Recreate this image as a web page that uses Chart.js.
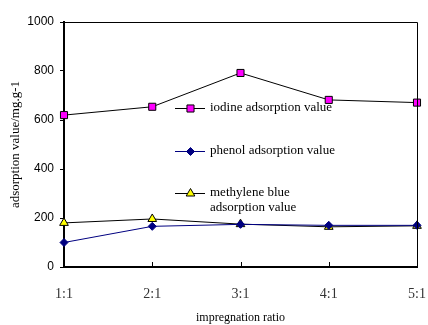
<!DOCTYPE html>
<html>
<head>
<meta charset="utf-8">
<script src="https://cdn.jsdelivr.net/npm/chart.js@4/dist/chart.umd.min.js"></script>
<style>
  html, body { margin: 0; padding: 0; background: #fff; }
  #wrap { width: 428px; height: 325px; }
</style>
</head>
<body>
<div id="wrap"><canvas id="chart" width="428" height="325"></canvas></div>
<script>
const ratios = ['1:1', '2:1', '3:1', '4:1', '5:1'];
const iodine = [620, 654, 792, 682, 671];
const phenol = [100, 166, 174, 170, 170];
const methyleneBlue = [180, 196, 175, 164, 168];
const yTicks = [0, 200, 400, 600, 800, 1000];

const serif = '"Liberation Serif", "DejaVu Serif", serif';
const sans = '"Liberation Sans", Arial, sans-serif';

// box round the plot + inward ticks on x
const frame = {
  id: 'frame',
  afterDraw(chart) {
    const { ctx, chartArea: a } = chart;
    const x = chart.scales.x;
    ctx.save();
    ctx.strokeStyle = '#000';
    ctx.lineWidth = 1;
    ctx.beginPath();
    ctx.moveTo(a.left, a.top + 0.5);
    ctx.lineTo(a.right + 0.5, a.top + 0.5);
    ctx.lineTo(a.right + 0.5, a.bottom);
    ctx.stroke();
    ctx.beginPath();
    for (let i = 1; i < ratios.length; i++) {
      const px = Math.round(x.getPixelForValue(i)) + 0.5;
      ctx.moveTo(px, a.bottom);
      ctx.lineTo(px, a.bottom - 5);
    }
    ctx.stroke();
    ctx.restore();
  }
};

// legend drawn inside the plot
const legendBox = {
  id: 'legendBox',
  afterDatasetsDraw(chart) {
    const { ctx } = chart;
    const rows = [
      { ds: 0, y: 108, lines: ['iodine adsorption value'] },
      { ds: 1, y: 151, lines: ['phenol adsorption value'] },
      { ds: 2, y: 193, lines: ['methylene blue', 'adsorption value'] },
    ];
    ctx.save();
    rows.forEach((r) => {
      const d = chart.data.datasets[r.ds];
      ctx.strokeStyle = d.borderColor;
      ctx.lineWidth = 1;
      ctx.beginPath();
      ctx.moveTo(175, r.y + 0.5);
      ctx.lineTo(205, r.y + 0.5);
      ctx.stroke();
      ctx.fillStyle = d.pointBackgroundColor;
      ctx.strokeStyle = d.pointBorderColor;
      Chart.helpers.drawPoint(ctx, {
        pointStyle: d.pointStyle,
        radius: d.pointRadius,
        rotation: 0,
        borderWidth: 1,
      }, 190.5, r.y + 0.5);
      ctx.fillStyle = '#000';
      ctx.font = '13px ' + serif;
      ctx.textBaseline = 'middle';
      r.lines.forEach((t, i) => ctx.fillText(t, 210, r.y + i * 15));
    });
    ctx.restore();
  }
};

new Chart(document.getElementById('chart'), {
  type: 'line',
  data: {
    labels: ratios,
    datasets: [
      {
        label: 'iodine adsorption value',
        data: iodine,
        borderColor: '#000000',
        borderWidth: 1,
        pointStyle: 'rect',
        pointRadius: 5,
        pointBackgroundColor: '#FF00FF',
        pointBorderColor: '#000000',
        pointBorderWidth: 1,
      },
      {
        label: 'phenol adsorption value',
        data: phenol,
        borderColor: '#000080',
        borderWidth: 1,
        pointStyle: 'rectRot',
        pointRadius: 4,
        pointBackgroundColor: '#000080',
        pointBorderColor: '#000080',
        pointBorderWidth: 1,
      },
      {
        label: 'methylene blue adsorption value',
        data: methyleneBlue,
        borderColor: '#000000',
        borderWidth: 1,
        pointStyle: 'triangle',
        pointRadius: 5,
        pointBackgroundColor: '#FFFF00',
        pointBorderColor: '#000000',
        pointBorderWidth: 1,
      },
    ],
  },
  options: {
    responsive: false,
    animation: false,
    layout: { padding: { left: 8, top: 22, right: 0, bottom: 0 } },
    plugins: { legend: { display: false }, tooltip: { enabled: false } },
    scales: {
      x: {
        type: 'category',
        offset: false,
        grid: { display: false, drawTicks: false },
        border: { display: true, color: '#000', width: 2 },
        ticks: {
          color: '#333',
          padding: 19,
          maxRotation: 0,
          font: { family: serif, size: 14 },
        },
        title: {
          display: true,
          text: 'impregnation ratio',
          color: '#000',
          font: { family: serif, size: 12 },
          padding: { top: 9, bottom: 0 },
        },
        afterFit(s) {
          s.height = 58;
          s.paddingLeft = 0;
          s.paddingRight = 11;
        },
      },
      y: {
        min: 0,
        max: 1000,
        afterBuildTicks(s) { s.ticks = yTicks.map((v) => ({ value: v })); },
        grid: { display: true, drawOnChartArea: false, drawTicks: true, tickLength: 4, color: '#000' },
        border: { display: true, color: '#000', width: 2 },
        ticks: {
          color: '#000',
          padding: 6,
          font: { family: sans, size: 12 },
          callback: (v) => String(v),
        },
        title: {
          display: true,
          text: 'adsorption value/mg.g-1',
          color: '#000',
          font: { family: serif, size: 13 },
          padding: { top: 0, bottom: 4 },
        },
        afterFit(s) { s.width = 56; },
      },
    },
  },
  plugins: [frame, legendBox],
});
</script>
</body>
</html>
